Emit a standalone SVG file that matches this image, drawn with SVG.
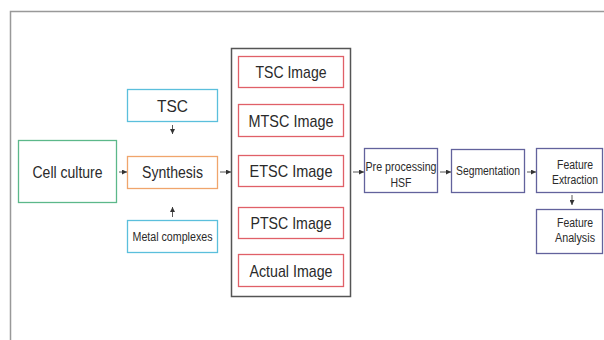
<svg xmlns="http://www.w3.org/2000/svg" width="604" height="340" viewBox="0 0 604 340">
<defs>
<marker id="ah" markerUnits="userSpaceOnUse" markerWidth="5" markerHeight="5" refX="5" refY="2.5" orient="auto">
<path d="M0,0 L5,2.5 L0,5 z" fill="#333"/>
</marker>
</defs>
<style>
.t{font-family:"Liberation Sans",Arial,sans-serif;fill:#2a2a2a;text-anchor:middle}
.big{font-size:17px}
.sm{font-size:12.5px}
.r{font-size:12px}
.box{fill:#fff;stroke-width:1.3}
.g{stroke:#5cb88a}
.b{stroke:#5bbfdc}
.o{stroke:#f0a56c}
.red{stroke:#e06068}
.p{stroke:#62629c}
.c{stroke:#444;stroke-width:0.9;fill:none;marker-end:url(#ah)}
</style>
<rect width="604" height="340" fill="#fff"/>
<path d="M10.5,340 V11.5 H604" fill="none" stroke="#999" stroke-width="1.5"/>

<g id="cell-culture"><rect class="box g" x="18.5" y="140.5" width="98" height="62"/><text class="t big" x="67.5" y="177.5" textLength="70" lengthAdjust="spacingAndGlyphs">Cell culture</text></g>
<g id="tsc"><rect class="box b" x="127.5" y="89.5" width="90" height="32"/><text class="t big" x="172.5" y="111.5" textLength="31" lengthAdjust="spacingAndGlyphs">TSC</text></g>
<g id="synthesis"><rect class="box o" x="127.5" y="156.5" width="90" height="32"/><text class="t big" x="172.5" y="178" textLength="61" lengthAdjust="spacingAndGlyphs">Synthesis</text></g>
<g id="metal-complexes"><rect class="box b" x="127.5" y="220.5" width="90" height="32"/><text class="t sm" x="172.5" y="241" textLength="80" lengthAdjust="spacingAndGlyphs">Metal complexes</text></g>

<g id="images"><rect x="231.5" y="48.5" width="119" height="248" fill="#fff" stroke="#555" stroke-width="1.5"/>
<g id="tsc-image"><rect class="box red" x="238.5" y="56.5" width="105" height="31"/><text class="t big" x="291" y="78" textLength="71" lengthAdjust="spacingAndGlyphs">TSC Image</text></g>
<g id="mtsc-image"><rect class="box red" x="238.5" y="104.5" width="105" height="32"/><text class="t big" x="291" y="126.5" textLength="85" lengthAdjust="spacingAndGlyphs">MTSC Image</text></g>
<g id="etsc-image"><rect class="box red" x="238.5" y="155.5" width="105" height="31"/><text class="t big" x="291" y="177" textLength="83" lengthAdjust="spacingAndGlyphs">ETSC Image</text></g>
<g id="ptsc-image"><rect class="box red" x="238.5" y="207.5" width="105" height="31"/><text class="t big" x="291" y="229" textLength="81" lengthAdjust="spacingAndGlyphs">PTSC Image</text></g>
<g id="actual-image"><rect class="box red" x="238.5" y="254.5" width="105" height="32"/><text class="t big" x="291" y="276.5" textLength="83" lengthAdjust="spacingAndGlyphs">Actual Image</text></g>
</g>

<g id="pre-processing"><rect class="box p" x="364.5" y="148.5" width="73" height="44"/><text class="t r" x="401" y="171" textLength="71" lengthAdjust="spacingAndGlyphs">Pre processing</text><text class="t r" x="401" y="187" textLength="21" lengthAdjust="spacingAndGlyphs">HSF</text></g>
<g id="segmentation"><rect class="box p" x="451.5" y="149.5" width="73" height="43"/><text class="t r" x="488" y="175" textLength="64" lengthAdjust="spacingAndGlyphs">Segmentation</text></g>
<g id="feature-extraction"><rect class="box p" x="536.5" y="148.5" width="66" height="44"/><text class="t r" x="575" y="169" textLength="36" lengthAdjust="spacingAndGlyphs">Feature</text><text class="t r" x="575" y="184" textLength="46" lengthAdjust="spacingAndGlyphs">Extraction</text></g>
<g id="feature-analysis"><rect class="box p" x="536.5" y="209.5" width="66" height="44"/><text class="t r" x="575" y="227" textLength="36" lengthAdjust="spacingAndGlyphs">Feature</text><text class="t r" x="575" y="242" textLength="40" lengthAdjust="spacingAndGlyphs">Analysis</text></g>

<g id="connectors">
<line class="c" x1="119" y1="172" x2="127" y2="172"/>
<line class="c" x1="220" y1="172" x2="231" y2="172"/>
<line class="c" x1="353" y1="172" x2="364" y2="172"/>
<line class="c" x1="440" y1="172" x2="451" y2="172"/>
<line class="c" x1="527" y1="172" x2="536" y2="172"/>
<line class="c" x1="172.5" y1="125" x2="172.5" y2="134"/>
<line class="c" x1="172.5" y1="217" x2="172.5" y2="207"/>
<line class="c" x1="572" y1="195" x2="572" y2="205"/>
</g>
</svg>
